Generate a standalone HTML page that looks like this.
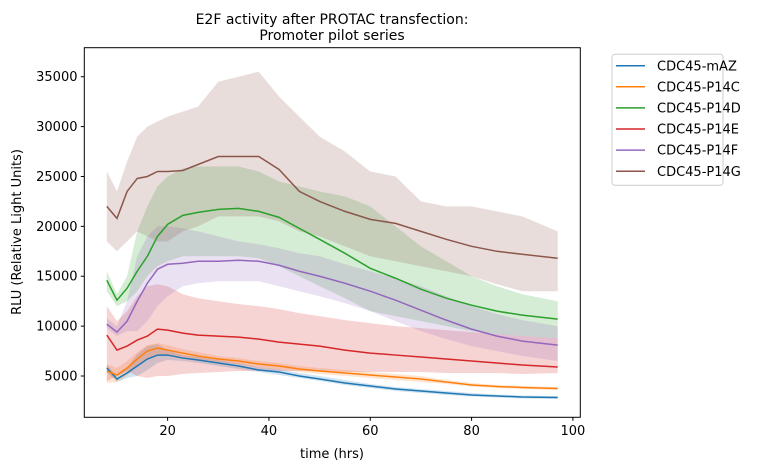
<!DOCTYPE html>
<html><head><meta charset="utf-8"><style>
body{margin:0;background:#fff;}
svg text{font-family:"DejaVu Sans","Liberation Sans",sans-serif;}
</style></head><body>
<svg id="chart" width="761" height="470" xmlns="http://www.w3.org/2000/svg">
<g id="bands"></g>
<g id="lines"></g>
<rect x="84.3" y="47.7" width="496" height="369.6" fill="none" stroke="#000" stroke-width="1"/>
<g id="xticks"></g>
<g id="yticks"></g>
<text x="332" y="24" font-size="14" text-anchor="middle">E2F activity after PROTAC transfection:</text>
<text x="332" y="40" font-size="14" text-anchor="middle">Promoter pilot series</text>
<text x="332" y="458" font-size="13" text-anchor="middle">time (hrs)</text>
<text transform="translate(21,232) rotate(-90)" font-size="13" text-anchor="middle">RLU (Relative Light Units)</text>
<g id="legend">
<rect x="612" y="54.3" width="111" height="131" rx="3" fill="#fff" stroke="#ccc"/>
</g>
</svg>
<script>
const times=[8,10,12,14,16,18,20,23,26,30,34,38,42,46,50,55,60,65,70,75,80,85,90,97];
const seriesNames=["CDC45-mAZ","CDC45-P14C","CDC45-P14D","CDC45-P14E","CDC45-P14F","CDC45-P14G"];
const colors=["#1f77b4","#ff7f0e","#2ca02c","#d62728","#9467bd","#8c564b"];
const meanMAZ=[5800,4700,5300,6000,6700,7100,7100,6800,6600,6300,6000,5600,5400,5000,4700,4300,4000,3700,3500,3300,3100,3000,2900,2850];
const loMAZ=[5400,4400,4800,5000,5600,6300,6600,6500,6300,6000,5700,5400,5100,4800,4500,4100,3800,3500,3300,3100,2950,2850,2750,2700];
const hiMAZ=[6100,5000,5800,7200,8000,8200,7600,7100,6900,6600,6300,5900,5700,5300,5000,4600,4200,3900,3700,3500,3300,3150,3050,3000];
const meanP14C=[5500,5100,5800,6700,7500,7800,7600,7300,7000,6700,6500,6200,6000,5700,5500,5300,5100,4900,4700,4400,4100,3950,3850,3750];
const loP14C=[4300,4400,5000,6000,6800,7200,7100,6900,6600,6400,6200,5900,5700,5400,5200,5000,4800,4600,4400,4200,3950,3800,3700,3600];
const hiP14C=[6200,5800,6500,7400,8100,8300,8100,7700,7400,7000,6800,6500,6300,6000,5800,5600,5400,5200,5000,4600,4300,4100,4000,3900];
const meanP14D=[14600,12600,13800,15500,17000,19000,20200,21100,21400,21700,21800,21500,20900,19800,18700,17300,15800,14800,13700,12800,12100,11500,11100,10700];
const loP14D=[13500,12000,12500,13500,15000,16000,16500,17000,17000,17000,17000,16800,16000,15000,14000,12800,11500,11000,10500,10000,9500,9200,9000,8800];
const hiP14D=[15500,13200,15000,19500,22000,24000,25000,25800,26000,26000,26000,25500,24500,24000,23500,23000,22000,20000,18000,16500,15000,14000,13200,12500];
const meanP14E=[9100,7600,8000,8600,9000,9700,9600,9300,9100,9000,8900,8700,8400,8200,8000,7600,7300,7100,6900,6700,6500,6300,6100,5900];
const loP14E=[4500,5000,5500,5000,4800,5000,5000,5200,5300,5400,5500,5500,5500,5500,5500,5400,5400,5400,5400,5300,5300,5300,5200,5300];
const hiP14E=[12000,10500,11500,13000,14000,14200,14000,13200,12800,12500,12200,12000,11700,11300,11000,10600,10300,10000,9800,9600,9400,9200,9000,8800];
const meanP14F=[10200,9400,10500,12500,14300,15700,16200,16300,16500,16500,16600,16500,16100,15500,15000,14300,13500,12600,11600,10600,9700,9000,8500,8100];
const loP14F=[9800,9000,9500,9500,10500,12000,13000,14000,14300,14500,14500,14500,14000,13500,13000,12300,11500,10500,9500,8700,8000,7500,7000,6500];
const hiP14F=[10800,10000,12500,17000,19000,20000,20000,19800,19500,19000,18500,18200,17800,17300,17000,16200,15500,14800,14000,13000,12000,11200,10600,10000];
const meanP14G=[22000,20800,23500,24800,25000,25500,25500,25600,26200,27000,27000,27000,25700,23500,22500,21500,20700,20300,19500,18700,18000,17500,17200,16800];
const loP14G=[18500,17500,18500,19500,19000,18500,18500,19500,20000,21000,21000,21000,20500,19500,19000,18000,17000,16500,16000,15500,15000,14200,13500,13500];
const hiP14G=[25500,23500,26500,29000,30000,30500,31000,31500,32000,34500,35000,35500,33000,31000,29000,27500,25500,25000,22500,22000,22000,21500,21000,19500];
const means=[meanMAZ,meanP14C,meanP14D,meanP14E,meanP14F,meanP14G];
const los=[loMAZ,loP14C,loP14D,loP14E,loP14F,loP14G];
const his=[hiMAZ,hiP14C,hiP14D,hiP14E,hiP14F,hiP14G];
const xTickVals=[20,40,60,80,100];
const yTickVals=[5000,10000,15000,20000,25000,30000,35000];

const NS="http://www.w3.org/2000/svg";
const xS=v=>66.3+v*5.066;
const yS=v=>425.9-v*0.009977;
function mk(tag,attrs,parent){const e=document.createElementNS(NS,tag);for(const k in attrs)e.setAttribute(k,attrs[k]);parent.appendChild(e);return e;}
const bands=document.getElementById('bands'),lines=document.getElementById('lines');
for(let s=0;s<6;s++){
  let d="M"+times.map((t,i)=>xS(t)+","+yS(his[s][i])).join("L");
  for(let i=times.length-1;i>=0;i--)d+="L"+xS(times[i])+","+yS(los[s][i]);
  const b=mk('path',{d:d+"Z",fill:colors[s],'fill-opacity':0.2,stroke:'none'},bands);
  
  
}
for(let s=0;s<6;s++){
  const p=mk('polyline',{points:times.map((t,i)=>xS(t)+","+yS(means[s][i])).join(" "),fill:'none',stroke:colors[s],'stroke-width':1.5},lines);
  
  
}
const xg=document.getElementById('xticks');
xTickVals.forEach(v=>{
  const l=mk('line',{x1:xS(v),x2:xS(v),y1:417.3,y2:420.8,stroke:'#000'},xg);
  
  
  const t=mk('text',{x:xS(v),y:435,'font-size':13,'text-anchor':'middle'},xg);t.textContent=v;
  
  
});
const yg=document.getElementById('yticks');
yTickVals.forEach(v=>{
  const l=mk('line',{x1:80.8,x2:84.3,y1:yS(v),y2:yS(v),stroke:'#000'},yg);
  
  
  const t=mk('text',{x:77.5,y:yS(v)+4.5,'font-size':13,'text-anchor':'end'},yg);t.textContent=v;
  
  
});
const lg=document.getElementById('legend');
seriesNames.forEach((n,i)=>{
  const y=65.7+i*21.1;
  const l=mk('line',{x1:616,x2:645,y1:y,y2:y,stroke:colors[i],'stroke-width':1.5},lg);
  
  
  const t=mk('text',{x:657,y:y+4.6,'font-size':13},lg);t.textContent=n;
  
  
});
</script>
</body></html>
